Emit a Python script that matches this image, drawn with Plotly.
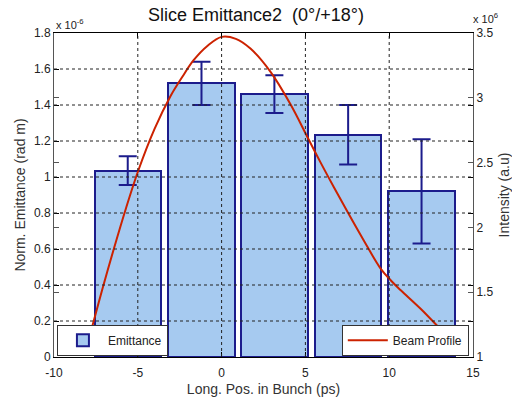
import plotly.graph_objects as go

# Slice emittance (units of 1e-6 rad m) per bunch slice
slice_pos = [-5.6, -1.2, 3.15, 7.55, 11.93]
emittance = [1.035, 1.52, 1.46, 1.235, 0.92]
emittance_err = [0.08, 0.12, 0.105, 0.165, 0.29]

# Beam intensity profile (units of 1e6 a.u.)
profile_pos = [-8.1, -7.75, -7.1, -6.45, -5.7, -4.98, -4.0, -3.06, -2.35, -1.67,
               -0.85, 0.0, 0.85, 1.72, 2.92, 4.11, 5.11, 5.91, 6.7, 7.51,
               8.5, 9.5, 10.1, 10.69, 11.89, 13.09, 14.0]
profile_int = [1.05, 1.22, 1.53, 1.826, 2.15, 2.435, 2.76, 3.01, 3.16, 3.29,
               3.40, 3.47, 3.455, 3.38, 3.20, 2.95, 2.70, 2.50, 2.31, 2.12,
               1.895, 1.68, 1.59, 1.515, 1.37, 1.21, 1.09]

x_ticks = [-10, -5, 0, 5, 10, 15]
x_labels = ["-10", "-5", "0", "5", "10", "15"]
y_ticks = [0, 0.2, 0.4, 0.6, 0.8, 1.0, 1.2, 1.4, 1.6, 1.8]
y_labels = ["0", "0.2", "0.4", "0.6", "0.8", "1", "1.2", "1.4", "1.6", "1.8"]
y2_ticks = [1, 1.5, 2, 2.5, 3, 3.5]
y2_labels = ["1", "1.5", "2", "2.5", "3", "3.5"]

FONT = "Liberation Sans, Arial, sans-serif"
NAVY = "#1C1C8C"
BAR_FILL = "#A6CAF0"
RED = "#CC2200"

fig = go.Figure()

fig.add_trace(go.Bar(
    x=slice_pos, y=emittance, width=3.95,
    marker=dict(color=BAR_FILL, line=dict(color=NAVY, width=2)),
    error_y=dict(type="data", array=emittance_err, color=NAVY, thickness=2, width=9),
    name="Emittance", legend="legend", showlegend=True,
))

fig.add_trace(go.Scatter(
    x=profile_pos, y=profile_int, mode="lines", yaxis="y2",
    line=dict(color=RED, width=2, shape="spline", smoothing=1.0),
    name="Beam Profile", legend="legend2", showlegend=True,
))

# dotted grid drawn over the bars
grid = dict(color="#222222", width=1, dash="3px,3px")
for v in x_ticks[1:-1]:
    fig.add_shape(type="line", xref="x", yref="paper", x0=v, x1=v, y0=0, y1=1,
                  line=grid, layer="above")
for v in y_ticks[1:-1]:
    fig.add_shape(type="line", xref="paper", yref="y", x0=0, x1=1, y0=v, y1=v,
                  line=grid, layer="above")

tick_font = dict(family=FONT, size=12, color="#222222")
title_font = dict(family=FONT, size=14, color="#333333")
legend_font = dict(family=FONT, size=12, color="#222222")

fig.update_layout(
    width=512, height=397,
    margin=dict(l=54, r=39, t=33, b=40, autoexpand=False),
    paper_bgcolor="white", plot_bgcolor="white",
    font=dict(family=FONT, size=12, color="#222222"),
    showlegend=True,
    title=dict(text="Slice Emittance2 \u00a0(0°/+18°)", x=0.5, xanchor="center",
               y=1 - 15 / 397, yanchor="middle", automargin=False,
               font=dict(family=FONT, size=18, color="#111111")),
    xaxis=dict(range=[-10, 15], tickvals=x_ticks, ticktext=x_labels,
               showgrid=False, zeroline=False, showline=True, linecolor="black",
               linewidth=1, mirror="ticks", ticks="inside", ticklen=5,
               tickcolor="black", tickfont=tick_font, ticklabelstandoff=5,
               automargin=False,
               title=dict(text="Long. Pos. in Bunch (ps)", font=title_font, standoff=5)),
    yaxis=dict(range=[0, 1.8], tickvals=y_ticks, ticktext=y_labels,
               showgrid=False, zeroline=False, showline=True, linecolor="black",
               linewidth=1, mirror="ticks", ticks="inside", ticklen=5,
               tickcolor="black", tickfont=tick_font, automargin=False,
               title=dict(text="Norm. Emittance (rad m)", font=title_font, standoff=5)),
    yaxis2=dict(range=[1, 3.5], tickvals=y2_ticks, ticktext=y2_labels,
                overlaying="y", side="right",
                showgrid=False, zeroline=False, showline=True, linecolor="#555555",
                linewidth=1, mirror="ticks", ticks="inside", ticklen=5,
                tickcolor="#555555", tickfont=tick_font, automargin=False,
                title=dict(text="Intensity (a.u)", font=title_font, standoff=6)),
    bargap=0,
    legend=dict(x=0.007, y=0.004, xanchor="left", yanchor="bottom",
                bgcolor="white", bordercolor="#333333", borderwidth=1,
                font=legend_font, itemwidth=40),
    legend2=dict(x=0.99, y=0.004, xanchor="right", yanchor="bottom",
                 bgcolor="white", bordercolor="#333333", borderwidth=1,
                 font=legend_font, itemwidth=40),
    annotations=[
        dict(text="x 10<sup>-6</sup>", xref="paper", yref="paper", x=0, y=1,
             xanchor="left", yanchor="bottom", showarrow=False,
             font=dict(family=FONT, size=11, color="#222222")),
        dict(text="x 10<sup>6</sup>", xref="paper", yref="paper", x=1, y=1,
             xanchor="left", yanchor="bottom", showarrow=False, xshift=-2, yshift=6,
             font=dict(family=FONT, size=11, color="#222222")),
    ],
)

fig.write_html("out.html")
